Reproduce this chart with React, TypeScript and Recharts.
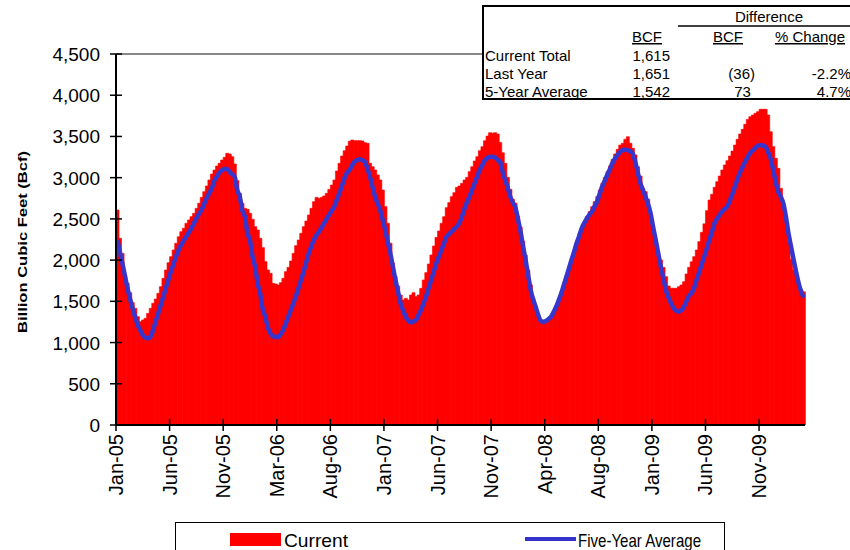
import React from 'react';
import { ComposedChart, Bar, Line, XAxis, YAxis, ReferenceLine } from 'recharts';

// weekly working gas in storage, Bcf (Jan 2005 - Mar 2010)
const current = [
  2608, 2264, 2082, 1807, 1718, 1605, 1484, 1415, 1314, 1253,
  1274, 1294, 1354, 1415, 1476, 1528, 1597, 1678, 1779, 1880,
  1969, 2042, 2123, 2204, 2284, 2345, 2386, 2446, 2487, 2527,
  2567, 2628, 2689, 2761, 2830, 2899, 2972, 3044, 3093, 3141,
  3174, 3214, 3247, 3295, 3287, 3255, 3166, 2964, 2810, 2689,
  2628, 2616, 2567, 2495, 2406, 2365, 2264, 2151, 1981, 1880,
  1840, 1718, 1710, 1698, 1726, 1779, 1860, 1912, 1989, 2082,
  2175, 2244, 2325, 2406, 2474, 2547, 2628, 2709, 2761, 2749,
  2761, 2778, 2810, 2858, 2911, 2972, 3081, 3174, 3263, 3327,
  3384, 3441, 3457, 3449, 3449, 3449, 3445, 3424, 3416, 3174,
  3133, 3093, 3032, 2972, 2850, 2648, 2446, 2204, 1961, 1799,
  1686, 1577, 1516, 1536, 1516, 1577, 1605, 1557, 1577, 1658,
  1759, 1848, 1953, 2062, 2171, 2276, 2353, 2446, 2527, 2636,
  2697, 2770, 2818, 2883, 2899, 2931, 2972, 3004, 3073, 3133,
  3202, 3255, 3327, 3376, 3449, 3505, 3546, 3538, 3546, 3530,
  3428, 3303, 3174, 3004, 2858, 2737, 2689, 2535, 2400, 2230,
  2060, 1880, 1700, 1540, 1420, 1330, 1270, 1250, 1250, 1270,
  1300, 1360, 1440, 1530, 1620, 1720, 1820, 1920, 2010, 2110,
  2200, 2325, 2386, 2466, 2527, 2588, 2648, 2709, 2770, 2850,
  2931, 3004, 3073, 3141, 3222, 3287, 3344, 3396, 3416, 3465,
  3497, 3416, 3356, 3275, 3133, 3020, 2870, 2830, 2737, 2567,
  2365, 2204, 2082, 2002, 1912, 1799, 1686, 1658, 1658, 1658,
  1678, 1698, 1738, 1832, 1912, 1980, 2042, 2123, 2224, 2337,
  2440, 2600, 2729, 2798, 2883, 2951, 3020, 3093, 3154, 3206,
  3263, 3323, 3396, 3465, 3530, 3586, 3647, 3707, 3740, 3760,
  3780, 3801, 3829, 3829, 3829, 3760, 3558, 3376, 3234, 3113,
  2870, 2608, 2406, 2224, 2010, 1880, 1779, 1726, 1638, 1615,
];

const fiveYearAvg = [
  2244, 2100, 1961, 1810, 1658, 1530, 1415, 1310, 1213, 1150,
  1092, 1060, 1051, 1070, 1150, 1253, 1350, 1455, 1555, 1658,
  1760, 1860, 1950, 2042, 2120, 2183, 2235, 2284, 2335, 2386,
  2445, 2507, 2560, 2608, 2680, 2749, 2810, 2870, 2960, 3010,
  3060, 3090, 3105, 3105, 3073, 3040, 3012, 2850, 2770, 2600,
  2527, 2330, 2244, 2040, 1920, 1720, 1597, 1400, 1314, 1180,
  1112, 1075, 1071, 1063, 1100, 1152, 1230, 1314, 1395, 1476,
  1565, 1658, 1760, 1860, 1970, 2082, 2165, 2244, 2300, 2345,
  2395, 2446, 2500, 2547, 2600, 2648, 2730, 2810, 2900, 2992,
  3060, 3093, 3150, 3194, 3215, 3222, 3215, 3194, 3110, 3012,
  2890, 2770, 2690, 2608, 2490, 2365, 2220, 2082, 1920, 1759,
  1620, 1476, 1390, 1314, 1270, 1245, 1255, 1273, 1330, 1395,
  1475, 1557, 1660, 1759, 1860, 1961, 2040, 2123, 2200, 2284,
  2315, 2345, 2375, 2406, 2450, 2520, 2620, 2700, 2770, 2850,
  2930, 3010, 3093, 3150, 3210, 3240, 3255, 3255, 3245, 3215,
  3194, 3070, 2972, 2880, 2770, 2700, 2640, 2500, 2350, 2170,
  2002, 1820, 1638, 1520, 1430, 1330, 1260, 1253, 1262, 1285,
  1314, 1370, 1435, 1515, 1597, 1700, 1799, 1900, 2002, 2100,
  2204, 2290, 2386, 2450, 2507, 2550, 2588, 2650, 2709, 2800,
  2891, 2960, 3032, 3100, 3174, 3230, 3275, 3310, 3336, 3340,
  3336, 3320, 3295, 3190, 3060, 2931, 2850, 2770, 2680, 2567,
  2400, 2244, 2080, 1920, 1780, 1638, 1550, 1476, 1420, 1387,
  1375, 1390, 1430, 1500, 1570, 1600, 1660, 1760, 1850, 1950,
  2042, 2140, 2244, 2340, 2446, 2500, 2547, 2590, 2620, 2648,
  2720, 2800, 2890, 2980, 3060, 3130, 3190, 3250, 3300, 3330,
  3360, 3385, 3396, 3390, 3376, 3310, 3234, 3100, 2950, 2830,
  2770, 2690, 2530, 2330, 2170, 2010, 1860, 1720, 1620, 1545,
];

// one label every 21 weeks
const tickLabels = [
  'Jan-05', 'Jun-05', 'Nov-05', 'Mar-06', 'Aug-06', 'Jan-07', 'Jun-07',
  'Nov-07', 'Apr-08', 'Aug-08', 'Jan-09', 'Jun-09', 'Nov-09',
];
const TICK_EVERY = 21;

const yTicks = [0, 500, 1000, 1500, 2000, 2500, 3000, 3500, 4000, 4500];

const tableRows = [
  { name: 'Current Total', bcf: '1,615', diff: '', pct: '' },
  { name: 'Last Year', bcf: '1,651', diff: '(36)', pct: '-2.2%' },
  { name: '5-Year Average', bcf: '1,542', diff: '73 ', pct: '4.7%' },
];

const data = current.map((v, i) => ({ week: i, current: v, avg: fiveYearAvg[i] }));

const FONT = '"Liberation Sans", Arial, sans-serif';

function XTick(props: any) {
  const { x, y, payload } = props;
  const tx = x - (payload.offset ?? 0);
  const label = tickLabels[Math.round(payload.value / TICK_EVERY)];
  return (
    <g>
      <line x1={tx} x2={tx} y1={y - 6} y2={y + 6} stroke="#000" strokeWidth={1.5} />
      <text
        transform={`translate(${tx + 7},${y + 9}) rotate(-90)`}
        textAnchor="end"
        fontSize={20}
        fontFamily={FONT}
        fill="#000"
      >
        {label}
      </text>
    </g>
  );
}

function YTick(props: any) {
  const { x, y, payload } = props;
  return (
    <g>
      <line x1={x - 6} x2={x + 6} y1={y} y2={y} stroke="#000" strokeWidth={1.5} />
      <text x={x - 16} y={y + 7} textAnchor="end" fontSize={19} fontFamily={FONT} fill="#000">
        {payload.value.toLocaleString('en-US')}
      </text>
    </g>
  );
}

function Overlay() {
  return (
    <svg
      width={850}
      height={550}
      style={{ position: 'absolute', left: 0, top: 0, pointerEvents: 'none' }}
      fontFamily={FONT}
    >
      {/* y axis title */}
      <text
        transform="translate(27,242) rotate(-90)"
        textAnchor="middle"
        fontSize={13.5}
        fontWeight="bold"
        textLength={182}
        lengthAdjust="spacingAndGlyphs"
      >
        Billion Cubic Feet  (Bcf)
      </text>

      {/* summary table */}
      <rect x={483} y={6} width={380} height={93} fill="#fff" stroke="#000" strokeWidth={2} />
      <text x={769} y={22} textAnchor="middle" fontSize={15}>Difference</text>
      <line x1={678} x2={850} y1={26} y2={26} stroke="#000" strokeWidth={1.5} />
      <text x={647} y={42} textAnchor="middle" fontSize={15} textDecoration="underline">BCF</text>
      <text x={728} y={42} textAnchor="middle" fontSize={15} textDecoration="underline">BCF</text>
      <text x={810} y={42} textAnchor="middle" fontSize={15} textDecoration="underline">% Change</text>
      {tableRows.map((r, i) => (
        <g key={r.name} fontSize={15}>
          <text x={485} y={61 + i * 18}>{r.name}</text>
          <text x={670} y={61 + i * 18} textAnchor="end">{r.bcf}</text>
          <text x={755} y={61 + i * 18} textAnchor="end" xmlSpace="preserve">{r.diff}</text>
          <text x={851} y={61 + i * 18} textAnchor="end">{r.pct}</text>
        </g>
      ))}

      {/* legend */}
      <rect x={175.5} y={522.5} width={549} height={40} fill="#fff" stroke="#000" strokeWidth={1} />
      <rect x={230} y={533} width={51} height={13} fill="#FF0000" />
      <text x={284} y={547} fontSize={19} textLength={64} lengthAdjust="spacingAndGlyphs">Current</text>
      <line x1={525} x2={576} y1={539} y2={539} stroke="#3333CC" strokeWidth={4} />
      <text x={578} y={547} fontSize={19} textLength={123} lengthAdjust="spacingAndGlyphs">Five-Year Average</text>
    </svg>
  );
}

export default function App() {
  return (
    <div style={{ position: 'absolute', left: 0, top: 0, width: 850, height: 550, background: '#fff' }}>
      <ComposedChart
        width={850}
        height={550}
        data={data}
        margin={{ top: 54, right: 45, bottom: 45, left: 0 }}
        barCategoryGap={0}
        barGap={0}
      >
        <XAxis
          dataKey="week"
          interval={TICK_EVERY - 1}
          height={80}
          tickSize={0}
          tickMargin={0}
          tickLine={false}
          axisLine={{ stroke: '#000', strokeWidth: 2 }}
          tick={(p: any) => <XTick {...p} />}
        />
        <YAxis
          domain={[0, 4500]}
          ticks={yTicks}
          interval={0}
          width={116}
          tickSize={0}
          tickMargin={0}
          tickLine={false}
          axisLine={{ stroke: '#000', strokeWidth: 2 }}
          tick={(p: any) => <YTick {...p} />}
        />
        <YAxis
          yAxisId="frame"
          orientation="right"
          domain={[0, 4500]}
          width={0}
          tick={false}
          tickLine={false}
          axisLine={{ stroke: '#888', strokeWidth: 2 }}
        />
        <ReferenceLine y={4500} stroke="#888" strokeWidth={2} />
        <Bar
          dataKey="current"
          fill="#FF0000"
          stroke="#FF0000"
          strokeWidth={0.6}
          isAnimationActive={false}
        />
        <Line
          type="monotone"
          dataKey="avg"
          stroke="#3636CC"
          strokeWidth={4.5}
          dot={false}
          activeDot={false}
          isAnimationActive={false}
        />
      </ComposedChart>
      <Overlay />
    </div>
  );
}
